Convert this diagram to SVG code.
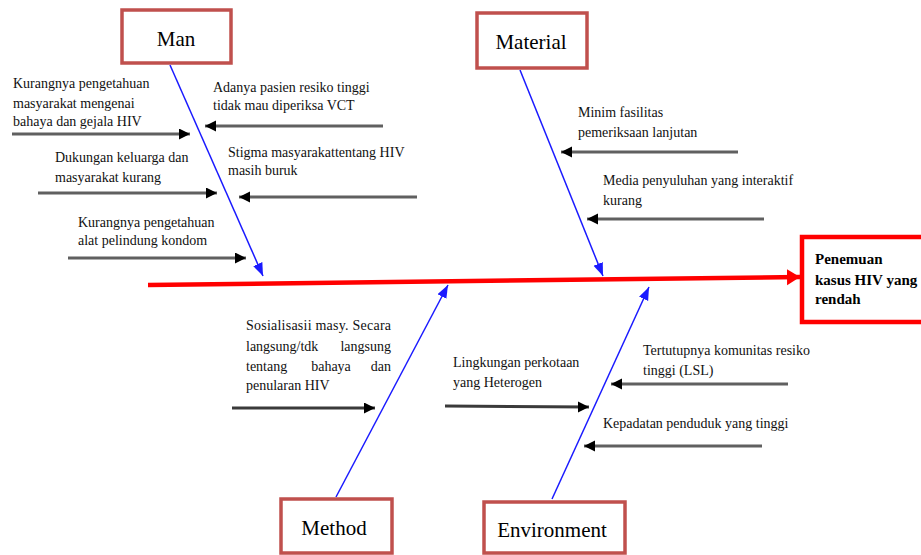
<svg xmlns="http://www.w3.org/2000/svg" width="921" height="555" viewBox="0 0 921 555">
<style>
.bg{fill:#ffffff}
.cat{fill:#ffffff;stroke:#C0504D;stroke-width:3.5}
.head{fill:#ffffff;stroke:#FF0000;stroke-width:4.5}
.catT{font-family:"Liberation Serif","Times New Roman",serif;font-size:21px;fill:#000;text-anchor:middle}
.headT{font-family:"Liberation Serif","Times New Roman",serif;font-size:15px;font-weight:bold;fill:#000}
.t{font-family:"Liberation Serif","Times New Roman",serif;font-size:14px;fill:#111}
.bone{stroke:#1a1aff;stroke-width:1.5;fill:none}
.sub{stroke:#606060;stroke-width:3;fill:none}
.spine{stroke:#FF0000;stroke-width:4.5;fill:none}
</style>
<defs>
<marker id="ab" markerUnits="userSpaceOnUse" markerWidth="14" markerHeight="12" refX="13" refY="5" orient="auto">
<path d="M0,0 L13,5 L0,10 Z" fill="#1a1aff"/>
</marker>
<marker id="ak" markerUnits="userSpaceOnUse" markerWidth="12" markerHeight="12" refX="11" refY="5.5" orient="auto">
<path d="M0,0 L11,5.5 L0,11 Z" fill="#000"/>
</marker>
<marker id="ar" markerUnits="userSpaceOnUse" markerWidth="14" markerHeight="18" refX="13" refY="8" orient="auto">
<path d="M0,0 L13,8 L0,16 Z" fill="#FF0000"/>
</marker>
</defs>
<rect class="bg" x="0" y="0" width="921" height="555"/>

<g id="connectors">
<line class="spine" x1="148" y1="285" x2="800" y2="277" marker-end="url(#ar)"/>
<line class="bone" x1="170" y1="65" x2="263" y2="276" marker-end="url(#ab)"/>
<line class="bone" x1="520" y1="70" x2="603" y2="276" marker-end="url(#ab)"/>
<line class="bone" x1="336" y1="497" x2="448" y2="285" marker-end="url(#ab)"/>
<line class="bone" x1="552" y1="499" x2="649" y2="287" marker-end="url(#ab)"/>
<!-- Man causes -->
<line class="sub" x1="12" y1="134" x2="190" y2="134" marker-end="url(#ak)"/>
<line class="sub" x1="383" y1="126" x2="205" y2="126" marker-end="url(#ak)"/>
<line class="sub" x1="38" y1="193" x2="217" y2="193" marker-end="url(#ak)"/>
<line class="sub" x1="417" y1="197" x2="239" y2="197" marker-end="url(#ak)"/>
<line class="sub" x1="68" y1="258" x2="246" y2="258" marker-end="url(#ak)"/>
<!-- Material causes -->
<line class="sub" x1="738" y1="152" x2="561" y2="152" marker-end="url(#ak)"/>
<line class="sub" x1="764" y1="219" x2="587" y2="219" marker-end="url(#ak)"/>
<!-- Method causes -->
<line class="sub" x1="232" y1="408" x2="375" y2="408" marker-end="url(#ak)" style="stroke:#3a3a3a"/>
<!-- Environment causes -->
<line class="sub" x1="445" y1="406" x2="589" y2="407" marker-end="url(#ak)" style="stroke:#3a3a3a"/>
<line class="sub" x1="788" y1="384" x2="611" y2="384" marker-end="url(#ak)"/>
<line class="sub" x1="762" y1="446" x2="584" y2="446" marker-end="url(#ak)"/>
</g>

<g id="man">
<rect class="cat" x="122" y="10" width="109" height="53"/>
<text class="catT" x="176" y="46">Man</text>
</g>
<g id="material">
<rect class="cat" x="477" y="13" width="110" height="55"/>
<text class="catT" x="531" y="49">Material</text>
</g>
<g id="method">
<rect class="cat" x="281" y="499" width="111" height="54"/>
<text class="catT" x="334" y="535">Method</text>
</g>
<g id="environment">
<rect class="cat" x="484" y="502" width="141" height="51"/>
<text class="catT" x="552" y="537">Environment</text>
</g>
<g id="effect">
<rect class="head" x="802" y="237" width="130" height="85"/>
<text class="headT" x="815" y="264">Penemuan</text>
<text class="headT" x="815" y="285">kasus HIV yang</text>
<text class="headT" x="815" y="304">rendah</text>
</g>

<g id="man-cause-1">
<text class="t" x="13" y="88">Kurangnya pengetahuan</text>
<text class="t" x="13" y="108">masyarakat mengenai</text>
<text class="t" x="13" y="126">bahaya dan gejala HIV</text>
</g>
<g id="man-cause-2">
<text class="t" x="213" y="92">Adanya pasien resiko tinggi</text>
<text class="t" x="213" y="110">tidak mau diperiksa VCT</text>
</g>
<g id="man-cause-3">
<text class="t" x="55" y="162">Dukungan keluarga dan</text>
<text class="t" x="55" y="182">masyarakat kurang</text>
</g>
<g id="man-cause-4">
<text class="t" x="228" y="157">Stigma masyarakattentang HIV</text>
<text class="t" x="228" y="175">masih buruk</text>
</g>
<g id="man-cause-5">
<text class="t" x="78" y="227">Kurangnya pengetahuan</text>
<text class="t" x="78" y="245">alat pelindung kondom</text>
</g>
<g id="material-cause-1">
<text class="t" x="578" y="117">Minim fasilitas</text>
<text class="t" x="578" y="137">pemeriksaan lanjutan</text>
</g>
<g id="material-cause-2">
<text class="t" x="603" y="185">Media penyuluhan yang interaktif</text>
<text class="t" x="603" y="205">kurang</text>
</g>
<g id="method-cause-1">
<text class="t" x="246" y="330" textLength="145" lengthAdjust="spacing">Sosialisasii masy. Secara</text>
<text class="t" x="246" y="351">langsung/tdk</text>
<text class="t" x="391" y="351" text-anchor="end">langsung</text>
<text class="t" x="246" y="371">tentang</text>
<text class="t" x="331" y="371" text-anchor="middle">bahaya</text>
<text class="t" x="391" y="371" text-anchor="end">dan</text>
<text class="t" x="246" y="390">penularan HIV</text>
</g>
<g id="env-cause-1">
<text class="t" x="453" y="367">Lingkungan perkotaan</text>
<text class="t" x="453" y="387">yang Heterogen</text>
</g>
<g id="env-cause-2">
<text class="t" x="643" y="355">Tertutupnya komunitas resiko</text>
<text class="t" x="643" y="375">tinggi (LSL)</text>
</g>
<g id="env-cause-3">
<text class="t" x="603" y="428">Kepadatan penduduk yang tinggi</text>
</g>
</svg>
